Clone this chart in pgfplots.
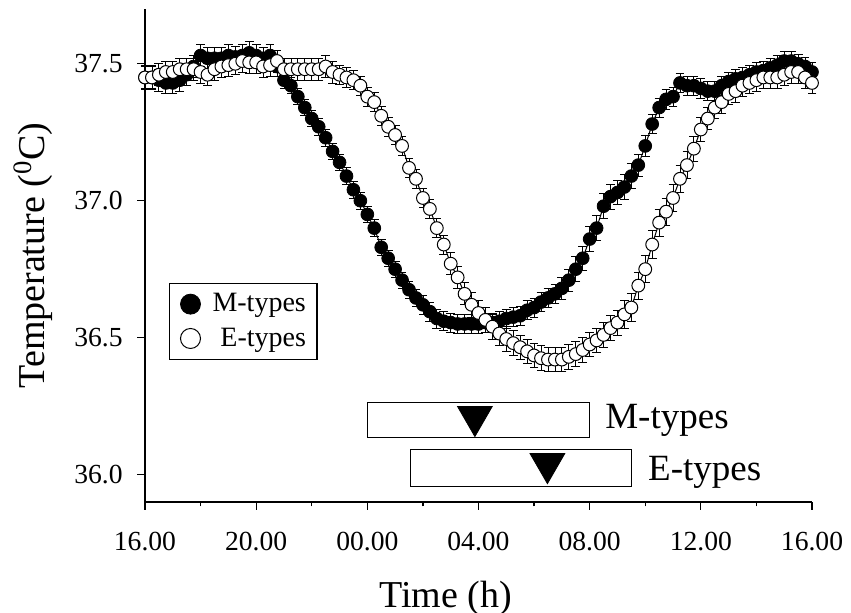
\documentclass[border=0pt]{standalone}
\usepackage{fontspec}
\setmainfont{Liberation Serif}
\usepackage{pgfplots}
\usepackage{pgfplotstable}
\pgfplotsset{compat=1.18}

% M-types: hours after 16.00, temperature, s.e.m.
\pgfplotstableread{
h T e
0.00 37.45 0.04
0.25 37.45 0.04
0.50 37.44 0.04
0.75 37.43 0.04
1.00 37.43 0.04
1.25 37.44 0.04
1.50 37.46 0.04
1.75 37.49 0.04
2.00 37.53 0.04
2.25 37.52 0.04
2.50 37.52 0.04
2.75 37.52 0.04
3.00 37.53 0.04
3.25 37.525 0.04
3.50 37.53 0.04
3.75 37.54 0.04
4.00 37.53 0.04
4.25 37.52 0.04
4.50 37.53 0.04
4.75 37.49 0.035
5.00 37.44 0.03
5.25 37.42 0.03
5.50 37.38 0.03
5.75 37.34 0.03
6.00 37.30 0.03
6.25 37.27 0.03
6.50 37.23 0.03
6.75 37.18 0.03
7.00 37.14 0.03
7.25 37.09 0.03
7.50 37.04 0.03
7.75 37.00 0.03
8.00 36.95 0.03
8.25 36.90 0.03
8.50 36.83 0.03
8.75 36.79 0.03
9.00 36.75 0.03
9.25 36.71 0.03
9.50 36.675 0.03
9.75 36.645 0.03
10.00 36.62 0.035
10.25 36.595 0.035
10.50 36.57 0.035
10.75 36.56 0.035
11.00 36.555 0.035
11.25 36.55 0.035
11.50 36.55 0.035
11.75 36.55 0.035
12.00 36.55 0.035
12.25 36.555 0.035
12.50 36.555 0.035
12.75 36.56 0.035
13.00 36.57 0.035
13.25 36.575 0.035
13.50 36.58 0.035
13.75 36.60 0.035
14.00 36.61 0.035
14.25 36.63 0.035
14.50 36.645 0.035
14.75 36.66 0.035
15.00 36.68 0.04
15.25 36.71 0.04
15.50 36.75 0.045
15.75 36.79 0.045
16.00 36.86 0.045
16.25 36.90 0.045
16.50 36.98 0.045
16.75 37.015 0.045
17.00 37.03 0.045
17.25 37.05 0.045
17.50 37.09 0.045
17.75 37.13 0.04
18.00 37.20 0.04
18.25 37.28 0.035
18.50 37.34 0.035
18.75 37.37 0.035
19.00 37.38 0.035
19.25 37.43 0.035
19.50 37.42 0.035
19.75 37.42 0.035
20.00 37.41 0.035
20.25 37.40 0.035
20.50 37.40 0.035
20.75 37.42 0.035
21.00 37.435 0.035
21.25 37.445 0.035
21.50 37.45 0.035
21.75 37.46 0.035
22.00 37.47 0.035
22.25 37.475 0.035
22.50 37.485 0.035
22.75 37.495 0.035
23.00 37.51 0.035
23.25 37.51 0.035
23.50 37.50 0.035
23.75 37.49 0.035
24.00 37.47 0.035
}\mtypes

% E-types
\pgfplotstableread{
h T e
0.00 37.45 0.045
0.25 37.45 0.045
0.50 37.46 0.04
0.75 37.47 0.04
1.00 37.47 0.04
1.25 37.48 0.04
1.50 37.48 0.04
1.75 37.48 0.04
2.00 37.47 0.04
2.25 37.46 0.04
2.50 37.48 0.04
2.75 37.49 0.04
3.00 37.495 0.04
3.25 37.50 0.04
3.50 37.51 0.04
3.75 37.505 0.04
4.00 37.505 0.04
4.25 37.49 0.04
4.50 37.495 0.04
4.75 37.51 0.04
5.00 37.48 0.04
5.25 37.48 0.04
5.50 37.48 0.04
5.75 37.48 0.04
6.00 37.48 0.04
6.25 37.48 0.04
6.50 37.49 0.04
6.75 37.47 0.04
7.00 37.46 0.035
7.25 37.45 0.035
7.50 37.44 0.035
7.75 37.42 0.035
8.00 37.38 0.035
8.25 37.36 0.035
8.50 37.31 0.035
8.75 37.27 0.035
9.00 37.24 0.035
9.25 37.20 0.035
9.50 37.12 0.035
9.75 37.08 0.035
10.00 37.01 0.035
10.25 36.97 0.035
10.50 36.90 0.035
10.75 36.84 0.035
11.00 36.77 0.04
11.25 36.72 0.04
11.50 36.66 0.04
11.75 36.62 0.045
12.00 36.59 0.045
12.25 36.565 0.045
12.50 36.54 0.045
12.75 36.515 0.045
13.00 36.495 0.045
13.25 36.48 0.045
13.50 36.465 0.045
13.75 36.45 0.045
14.00 36.435 0.045
14.25 36.425 0.045
14.50 36.42 0.045
14.75 36.42 0.045
15.00 36.42 0.045
15.25 36.43 0.045
15.50 36.44 0.045
15.75 36.455 0.045
16.00 36.475 0.045
16.25 36.49 0.045
16.50 36.51 0.045
16.75 36.535 0.045
17.00 36.555 0.045
17.25 36.585 0.05
17.50 36.61 0.05
17.75 36.69 0.05
18.00 36.75 0.05
18.25 36.84 0.05
18.50 36.92 0.05
18.75 36.96 0.05
19.00 37.01 0.05
19.25 37.08 0.05
19.50 37.13 0.05
19.75 37.19 0.045
20.00 37.26 0.045
20.25 37.30 0.04
20.50 37.34 0.04
20.75 37.36 0.04
21.00 37.39 0.04
21.25 37.40 0.04
21.50 37.42 0.04
21.75 37.43 0.04
22.00 37.44 0.04
22.25 37.45 0.04
22.50 37.45 0.04
22.75 37.45 0.04
23.00 37.46 0.04
23.25 37.47 0.04
23.50 37.47 0.04
23.75 37.45 0.04
24.00 37.43 0.04
}\etypes

\begin{document}
\begin{tikzpicture}
\begin{axis}[
    at={(0,0)}, anchor=south west,
    scale only axis,
    width=333.5pt, height=246.5pt,
    xmin=0, xmax=24,
    ymin=35.9, ymax=37.7,
    clip=false,
    axis x line=bottom, axis y line=left,
    axis line style={-, line width=0.6pt},
    tick style={black, line width=0.6pt},
    tick align=outside,
    major tick length=3.8pt,
    minor tick length=2.2pt,
    xtick={0,4,...,24},
    xticklabels={16.00,20.00,00.00,04.00,08.00,12.00,16.00},
    minor x tick num=1,
    ytick={36.0,36.5,37.0,37.5},
    yticklabels={36.0,36.5,37.0,37.5},
    /pgf/number format/assume math mode=true,
    tick label style={font=\fontsize{13.8}{16}\selectfont, inner sep=0pt},
    yticklabel style={xshift=-7.2pt},
    xticklabel style={yshift=-11.2pt},
    xlabel={Time (h)},
    ylabel={Temperature (\textsuperscript{0}C)},
    label style={font=\fontsize{19}{22}\selectfont, inner sep=0pt},
    xlabel style={at={(axis description cs:0.451,-0.213)}, anchor=base},
    ylabel style={at={(axis description cs:-0.138,0.5)}, anchor=south},
    legend style={at={(axis cs:0.86,36.70)}, anchor=north west,
        draw=black, line width=0.6pt, inner xsep=3.5pt, inner ysep=3pt,
        font=\fontsize{14}{16}\selectfont, row sep=2.5pt},
    legend cell align=left,
    legend image code/.code={%
        \draw[#1, mark size=5pt] plot coordinates {(0pt,0pt)};
        \path[draw=none, fill=none] (-7pt,0pt) rectangle (9pt,0pt);},
]
\addplot[black, line width=0.5pt, mark=*, mark size=3.2pt,
    mark options={fill=black, draw=black, line width=0.4pt},
    error bars/.cd, y dir=both, y explicit,
    error bar style={line width=0.4pt, black},
    error mark options={rotate=90, mark size=2.2pt, line width=0.4pt}]
    table[x=h, y=T, y error=e] {\mtypes};
\addlegendentry{M-types}
\addplot[black, line width=0.5pt, mark=*, mark size=3.2pt,
    mark options={fill=white, draw=black, line width=0.5pt},
    error bars/.cd, y dir=both, y explicit,
    error bar style={line width=0.4pt, black},
    error mark options={rotate=90, mark size=2.2pt, line width=0.4pt}]
    table[x=h, y=T, y error=e] {\etypes};
\addlegendentry{\hspace{4pt}E-types}

% acrophase ranges and means
\draw[line width=0.6pt] (axis cs:8,36.135) rectangle (axis cs:16,36.263);
\draw[line width=0.6pt] (axis cs:9.56,35.956) rectangle (axis cs:17.5,36.091);
\addplot[only marks, mark=triangle*, mark size=10pt,
    mark options={rotate=180, fill=black, draw=black}, forget plot]
    coordinates {(11.87,36.212) (14.48,36.04)};
\node[anchor=base west, inner sep=0pt, font=\fontsize{18.5}{20}\selectfont]
    at (axis cs:16.55,36.168) {M-types};
\node[anchor=base west, inner sep=0pt, font=\fontsize{18.5}{20}\selectfont]
    at (axis cs:18.09,35.978) {E-types};
\end{axis}
\pgfresetboundingbox
\path (-72.5pt,-55.5pt) rectangle (353pt,251pt);
\end{tikzpicture}
\end{document}
